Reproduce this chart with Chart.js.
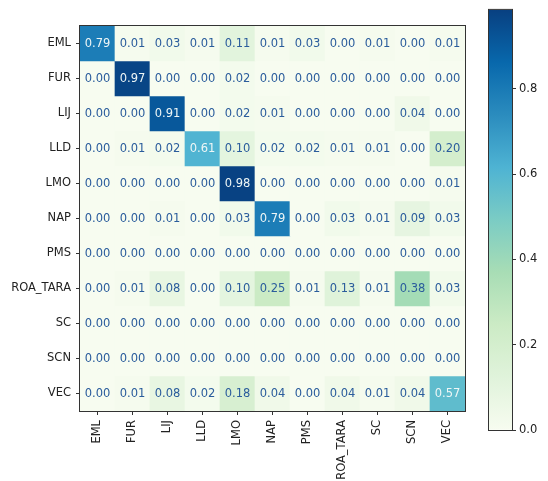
<!DOCTYPE html>
<html><head><meta charset="utf-8">
<script src="https://cdn.jsdelivr.net/npm/chart.js@4.4.0/dist/chart.umd.min.js"></script>
<style>body{margin:0;background:#fff}canvas{position:absolute;left:0;top:0}</style>
</head><body>
<canvas id="m" width="548" height="481"></canvas>
<canvas id="cb" width="548" height="481"></canvas>
<script>
// ---- data ----
const labels = ['EML','FUR','LIJ','LLD','LMO','NAP','PMS','ROA_TARA','SC','SCN','VEC'];
const rowEML  = [0.79,0.01,0.03,0.01,0.11,0.01,0.03,0.00,0.01,0.00,0.01];
const rowFUR  = [0.00,0.97,0.00,0.00,0.02,0.00,0.00,0.00,0.00,0.00,0.00];
const rowLIJ  = [0.00,0.00,0.91,0.00,0.02,0.01,0.00,0.00,0.00,0.04,0.00];
const rowLLD  = [0.00,0.01,0.02,0.61,0.10,0.02,0.02,0.01,0.01,0.00,0.20];
const rowLMO  = [0.00,0.00,0.00,0.00,0.98,0.00,0.00,0.00,0.00,0.00,0.01];
const rowNAP  = [0.00,0.00,0.01,0.00,0.03,0.79,0.00,0.03,0.01,0.09,0.03];
const rowPMS  = [0.00,0.00,0.00,0.00,0.00,0.00,0.00,0.00,0.00,0.00,0.00];
const rowROA  = [0.00,0.01,0.08,0.00,0.10,0.25,0.01,0.13,0.01,0.38,0.03];
const rowSC   = [0.00,0.00,0.00,0.00,0.00,0.00,0.00,0.00,0.00,0.00,0.00];
const rowSCN  = [0.00,0.00,0.00,0.00,0.00,0.00,0.00,0.00,0.00,0.00,0.00];
const rowVEC  = [0.00,0.01,0.08,0.02,0.18,0.04,0.00,0.04,0.01,0.04,0.57];
const matrix = [rowEML,rowFUR,rowLIJ,rowLLD,rowLMO,rowNAP,rowPMS,rowROA,rowSC,rowSCN,rowVEC];
const colorMax = 0.985;
const colorbarTicks = [0.0,0.2,0.4,0.6,0.8];

// ---- colormap (GnBu) ----
const GNBU = ['#f7fcf0','#e0f3db','#ccebc5','#a8ddb5','#7bccc4','#4eb3d3','#2b8cbe','#0868ac','#084081'];
function hex2rgb(h){return [parseInt(h.slice(1,3),16),parseInt(h.slice(3,5),16),parseInt(h.slice(5,7),16)];}
function cmap(v){
  let t = Math.max(0, Math.min(1, v / colorMax));
  const s = t * 8; let i = Math.floor(s); if (i >= 8) return GNBU[8];
  const f = s - i; const a = hex2rgb(GNBU[i]), b = hex2rgb(GNBU[i+1]);
  const c = a.map((x,k)=>Math.round(x + (b[k]-x)*f));
  return 'rgb(' + c.join(',') + ')';
}

Chart.defaults.font.family = 'DejaVu Sans';
Chart.defaults.font.size = 11.5;
Chart.defaults.color = '#222';

const frame = {
  id: 'frame',
  afterDraw(chart){
    const a = chart.chartArea, ctx = chart.ctx;
    ctx.save(); ctx.strokeStyle = '#333'; ctx.lineWidth = 1;
    ctx.strokeRect(a.left - 0.5, a.top - 0.5, a.right - a.left + 1, a.bottom - a.top + 1);
    ctx.restore();
  }
};
const cellText = {
  id: 'cellText',
  afterDatasetsDraw(chart){
    const ctx = chart.ctx;
    ctx.save();
    ctx.font = '11.5px "DejaVu Sans"'; ctx.textAlign = 'center'; ctx.textBaseline = 'middle';
    chart.data.datasets.forEach((ds, r) => {
      chart.getDatasetMeta(r).data.forEach((bar, c) => {
        const v = matrix[r][c];
        const p = bar.getCenterPoint();
        ctx.fillStyle = v > 0.5 ? '#eef6f6' : '#2a5c9c';
        ctx.fillText(v.toFixed(2), p.x, p.y + 0.5);
      });
    });
    ctx.restore();
  }
};

new Chart(document.getElementById('m'), {
  type: 'bar',
  data: {
    labels: labels,
    datasets: matrix.map((row, r) => ({
      label: labels[r],
      data: row.map(() => [r - 0.5, r + 0.5]),
      backgroundColor: row.map(v => cmap(v)),
      borderWidth: 0,
      grouped: false,
      barPercentage: 1,
      categoryPercentage: 1
    }))
  },
  options: {
    responsive: false, animation: false,
    layout: { padding: { left: 0, top: 26, right: 83, bottom: 0 } },
    plugins: { legend: { display: false }, tooltip: { enabled: false } },
    scales: {
      x: {
        type: 'category',
        grid: { drawOnChartArea: false, offset: false, tickLength: 4, tickColor: '#333' },
        border: { display: false },
        ticks: { autoSkip: false, minRotation: 90, maxRotation: 90, padding: 5, color: '#222' },
        afterFit(s){ s.height = 70; }
      },
      y: {
        type: 'linear', min: -0.5, max: 10.5, reverse: true,
        afterBuildTicks(s){ s.ticks = labels.map((_, i) => ({ value: i })); },
        grid: { drawOnChartArea: false, tickLength: 4, tickColor: '#333' },
        border: { display: false },
        ticks: { padding: 5, color: '#222', callback: (v) => labels[v] },
        afterFit(s){ s.width = 80; }
      }
    }
  },
  plugins: [cellText, frame]
});

new Chart(document.getElementById('cb'), {
  type: 'bar',
  data: {
    labels: ['cbar'],
    datasets: [{
      data: [[0, colorMax]],
      borderWidth: 0, barPercentage: 1, categoryPercentage: 1,
      backgroundColor(ctx){
        const a = ctx.chart.chartArea; if (!a) return GNBU[4];
        const g = ctx.chart.ctx.createLinearGradient(0, a.bottom, 0, a.top);
        GNBU.forEach((c, i) => g.addColorStop(i / 8, c));
        return g;
      }
    }]
  },
  options: {
    responsive: false, animation: false,
    layout: { padding: { left: 489, top: 7, right: 0, bottom: 51 } },
    plugins: { legend: { display: false }, tooltip: { enabled: false } },
    scales: {
      x: { display: false },
      y: {
        type: 'linear', position: 'right', min: 0, max: colorMax,
        afterBuildTicks(s){ s.ticks = colorbarTicks.map(v => ({ value: v })); },
        grid: { drawOnChartArea: false, tickLength: 4, tickColor: '#333' },
        border: { display: false },
        ticks: { padding: 3, color: '#222', callback: (v) => v.toFixed(1) },
        afterFit(s){ s.width = 36; }
      }
    }
  },
  plugins: [frame]
});
</script></body></html>
